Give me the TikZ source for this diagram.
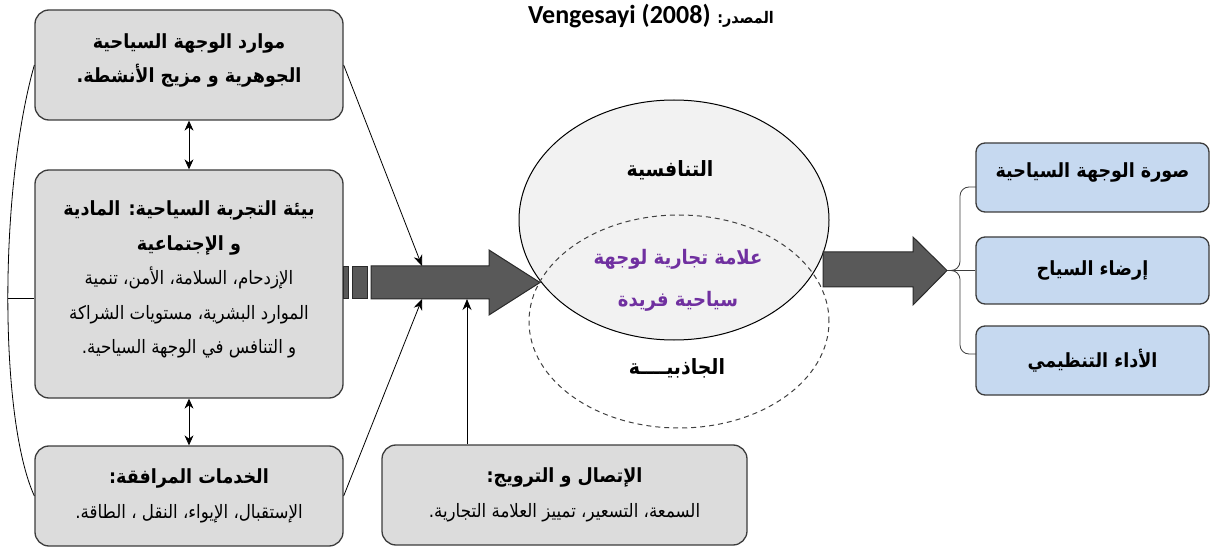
\documentclass[tikz,border=0pt]{standalone}
\usepackage{fontspec}
\usetikzlibrary{arrows.meta,shapes.geometric,calc}
\TeXXeTstate=1
\newfontfamily\arabicfont[Script=Arabic, FakeStretch=0.9]{DejaVu Sans}
\newfontfamily\latinfont{Carlito}
\definecolor{boxgray}{HTML}{DCDCDC}
\definecolor{boxline}{HTML}{3C3C3C}
\definecolor{outblue}{HTML}{C6D9F0}
\definecolor{ovalgray}{HTML}{F2F2F2}
\definecolor{fatgray}{HTML}{595959}
\definecolor{fatedge}{HTML}{2A2A2A}
\definecolor{brandpurple}{HTML}{7030A0}
\newcommand{\hdline}[1]{{\bfseries\fontsize{19.5}{34.5}\selectfont\beginR #1\endR}}
\newcommand{\txline}[1]{{\fontsize{18.5}{34.5}\selectfont\beginR #1\endR}}
\tikzset{
  box/.style={draw=boxline, fill=boxgray, rounded corners=14pt, line width=1.3pt,
    align=center, inner sep=0pt, font=\arabicfont\fontsize{18.5}{34.5}\selectfont},
  outbox/.style={draw=boxline, fill=outblue, rounded corners=9pt, line width=1.3pt,
    align=center, inner sep=0pt, minimum width=233pt, font=\arabicfont},
  link/.style={draw=black, line width=0.8pt},
  linkarrow/.style={link, -{Stealth[length=11pt,width=9pt]}},
  twoway/.style={link, {Stealth[length=10pt,width=9pt]}-{Stealth[length=10pt,width=9pt]}},
  fatarrow/.style={fill=fatgray, draw=fatedge, line width=1pt},
  ovaltext/.style={font=\arabicfont\bfseries\fontsize{21}{26}\selectfont, inner sep=0pt},
}
\begin{document}
\begin{tikzpicture}[x=1pt, y=-1pt]
\useasboundingbox (0,0) rectangle (1211,548);

% source line
\node[inner sep=0pt] (src) at (651,16)
  {\arabicfont\bfseries\fontsize{16}{18}\selectfont\beginR المصدر: \beginL{\latinfont\bfseries\fontsize{26}{26}\selectfont Vengesayi (2008)}\endL\endR};

% left column of factor boxes
\node[box, minimum width=308pt, minimum height=110pt, text depth=14pt] (res) at (189,65)
  {\hdline{موارد الوجهة السياحية}\\\hdline{الجوهرية و مزيج الأنشطة.}};
\node[box, minimum width=308pt, minimum height=228pt, text depth=13pt] (env) at (189,284)
  {\hdline{بيئة التجربة السياحية: المادية}\\\hdline{و الإجتماعية}\\
   \txline{الإزدحام، السلامة، الأمن، تنمية}\\
   \txline{الموارد البشرية، مستويات الشراكة}\\
   \txline{و التنافس في الوجهة السياحية.}};
\node[box, minimum width=308pt, minimum height=100pt] (svc) at (189,496)
  {\hdline{الخدمات المرافقة:}\\\txline{الإستقبال، الإيواء، النقل ، الطاقة.}};
\node[box, minimum width=365pt, minimum height=100pt] (com) at (564.5,495)
  {\hdline{الإتصال و الترويج:}\\\txline{السمعة، التسعير، تمييز العلامة التجارية.}};

% two-way links in the left column
\draw[twoway] (res.south) -- (env.north);
\draw[twoway] (env.south) -- (svc.north);

% left bracket joining the three boxes
\coordinate (lmid) at (8,298);
\draw[link] (res.west) .. controls (-1,190) and (-1,418) .. (svc.west);
\draw[link] (lmid) -- (lmid -| env.west);

% main fat arrow towards the brand
\draw[fatarrow] (343,267) rectangle (348,299);
\draw[fatarrow] (352,267) rectangle (367,299);
\draw[fatarrow] (371,266) -- (489,266) -- (489,250) -- (540,282.5) -- (489,315) -- (489,299) -- (371,299) -- cycle;
\coordinate (intop) at (422,266);
\coordinate (inbot) at (422,299);
\coordinate (incom) at (467,299);
\draw[linkarrow] (res.east) -- (intop);
\draw[linkarrow] (svc.east) -- (inbot);
\draw[linkarrow] (com.north -| incom) -- (incom);

% competitiveness and attractiveness ovals
\node[ellipse, draw=black, line width=1pt, fill=ovalgray, minimum width=310pt, minimum height=240pt, inner sep=0pt] (comp) at (674,220) {};
\node[ellipse, draw=black!75, line width=1pt, dash pattern=on 5pt off 4pt, minimum width=300pt, minimum height=213pt, inner sep=0pt] (attr) at (679,321.5) {};
\node[ovaltext] (comptxt) at (670,170) {\beginR التنافسية\endR};
\node[ovaltext, align=center, text=brandpurple, font=\arabicfont\bfseries\fontsize{20}{42}\selectfont] (brand) at (678,280)
  {\beginR علامة تجارية لوجهة\endR\\\beginR سياحية فريدة\endR};
\node[ovaltext] (attrtxt) at (677,368) {\beginR الجاذبيــــة\endR};

% outcome arrow
\draw[fatarrow] (823,252) -- (913,252) -- (913,237) -- (947,270.5) -- (913,305) -- (913,287) -- (823,287) -- cycle;
\coordinate (tip) at (947,270.5);

% outcome boxes
\node[outbox, minimum height=69pt, text depth=14pt] (img) at (1092.5,177.5)
  {\hdline{صورة الوجهة السياحية}};
\node[outbox, minimum height=67pt] (sat) at (1092.5,270.5)
  {\hdline{إرضاء السياح}};
\node[outbox, minimum height=69pt] (perf) at (1092.5,360.5)
  {\hdline{الأداء التنظيمي}};

% bracket from the arrow tip to the outcomes
\coordinate (jimg) at (976,187);
\coordinate (jperf) at (976,354);
\draw[link, draw=boxline, rounded corners=9pt] (jimg) -- (960,187) -- (960,270.5) -- (tip);
\draw[link, draw=boxline, rounded corners=9pt] (jperf) -- (960,354) -- (960,270.5) -- (tip);
\draw[link, draw=boxline] (tip) -- (sat.west);
\end{tikzpicture}
\end{document}
